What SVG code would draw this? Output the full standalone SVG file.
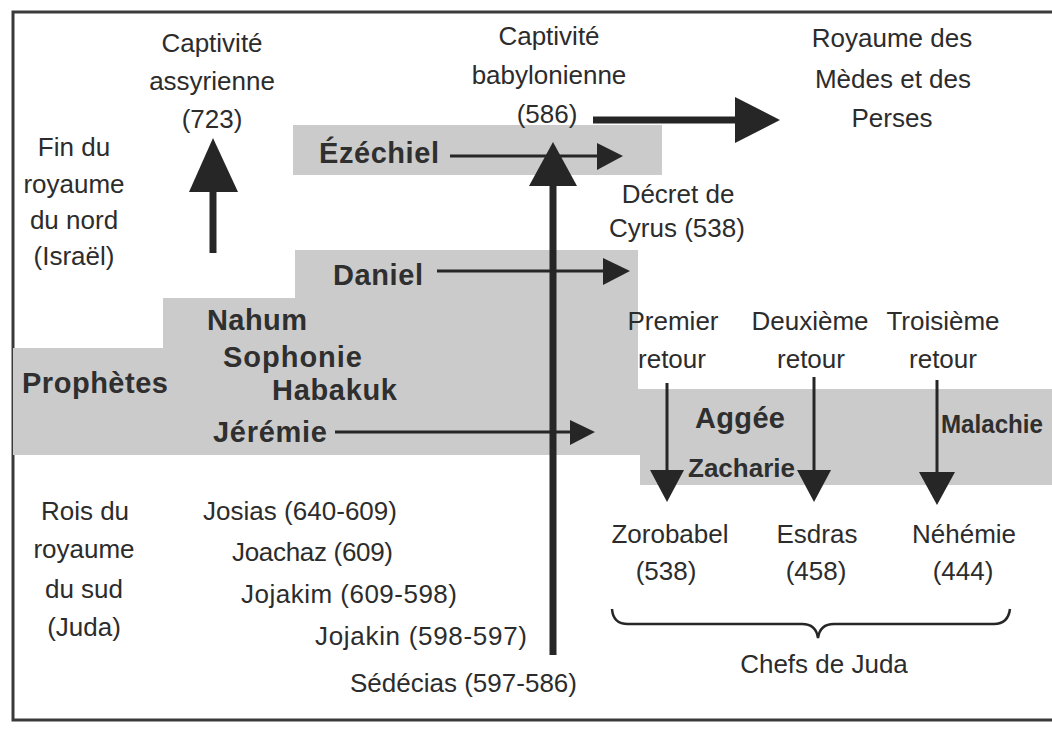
<svg xmlns="http://www.w3.org/2000/svg" width="1052" height="734" viewBox="0 0 1052 734">
<style>
.t{font-family:"Liberation Sans",Arial,sans-serif;font-size:26px;fill:#2c2c2c;text-anchor:middle}
.k{font-family:"Liberation Sans",Arial,sans-serif;font-size:26px;fill:#2c2c2c}
.b{font-family:"Liberation Sans",Arial,sans-serif;font-size:29px;font-weight:bold;fill:#2f2f2f}
.band{fill:#cbcbcb}
.ln{stroke:#262626;fill:none}
.hd{fill:#262626}
</style>
<rect width="1052" height="734" fill="#ffffff"/>
<path d="M1052,12 H13 V720 H1052" fill="none" stroke="#3a3a3a" stroke-width="3"/>
<g id="bands">
<rect class="band" x="293" y="125" width="369" height="50"/>
<polygon class="band" points="295,250 638,250 638,389 1052,389 1052,485 640,485 640,455 13,455 13,348 163,348 163,298 295,298"/>
</g>
<g id="connectors">
<line class="ln" x1="213" y1="253" x2="213" y2="190" stroke-width="7"/>
<polygon class="hd" points="213,138 238,192 189,192"/>
<line class="ln" x1="553" y1="655" x2="553" y2="184" stroke-width="7"/>
<polygon class="hd" points="553,142 577,186 529,186"/>
<line class="ln" x1="593" y1="120" x2="737" y2="120" stroke-width="7"/>
<polygon class="hd" points="780,120 735,97 735,143"/>
<line class="ln" x1="450" y1="156" x2="600" y2="156" stroke-width="3"/>
<polygon class="hd" points="623,156 597,143 597,170"/>
<line class="ln" x1="437" y1="271" x2="606" y2="271" stroke-width="3"/>
<polygon class="hd" points="630,271 603,258 603,285"/>
<line class="ln" x1="335" y1="432" x2="573" y2="432" stroke-width="3"/>
<polygon class="hd" points="595,432 570,420 570,445"/>
<line class="ln" x1="667" y1="383" x2="667" y2="472" stroke-width="3"/>
<polygon class="hd" points="667,502 650,470 684,470"/>
<line class="ln" x1="814" y1="377" x2="814" y2="472" stroke-width="3"/>
<polygon class="hd" points="814,502 797,470 831,470"/>
<line class="ln" x1="937" y1="380" x2="937" y2="474" stroke-width="3"/>
<polygon class="hd" points="937,505 919,472 955,472"/>
<path class="ln" stroke-width="2.5" d="M612,609 Q613,624 628,624 H802 Q816,624 818,638 Q820,624 834,624 H994 Q1008,624 1010,609"/>
</g>
<g id="captivite-assyrienne">
<text class="t" x="212" y="52">Captivité</text>
<text class="t" x="212" y="90">assyrienne</text>
<text class="t" x="212" y="128">(723)</text>
</g>
<g id="fin-royaume-nord">
<text class="t" x="74" y="156">Fin du</text>
<text class="t" x="74" y="193">royaume</text>
<text class="t" x="74" y="229">du nord</text>
<text class="t" x="74" y="265">(Israël)</text>
</g>
<g id="captivite-babylonienne">
<text class="t" x="549" y="45">Captivité</text>
<text class="t" x="549" y="84">babylonienne</text>
<text class="t" x="547" y="123">(586)</text>
</g>
<g id="royaume-medes-perses">
<text class="t" x="892" y="47">Royaume des</text>
<text class="t" x="893" y="88">Mèdes et des</text>
<text class="t" x="892" y="127">Perses</text>
</g>
<g id="decret-cyrus">
<text class="t" x="678" y="203">Décret de</text>
<text class="t" x="677" y="237">Cyrus (538)</text>
</g>
<g id="ezechiel"><text class="b" x="319" y="163" textLength="120">Ézéchiel</text></g>
<g id="daniel"><text class="b" x="333" y="285" textLength="90">Daniel</text></g>
<g id="nahum"><text class="b" x="207" y="330" textLength="100">Nahum</text></g>
<g id="sophonie"><text class="b" x="223" y="367" textLength="139">Sophonie</text></g>
<g id="habakuk"><text class="b" x="272" y="400" textLength="125">Habakuk</text></g>
<g id="prophetes"><text class="b" x="22" y="393" textLength="146">Prophètes</text></g>
<g id="jeremie"><text class="b" x="213" y="442" textLength="114">Jérémie</text></g>
<g id="aggee"><text class="b" x="695" y="428" textLength="90">Aggée</text></g>
<g id="zacharie"><text class="b" x="688" y="477" style="font-size:26px" textLength="107">Zacharie</text></g>
<g id="malachie"><text class="b" x="941" y="433" style="font-size:26px" textLength="102" lengthAdjust="spacingAndGlyphs">Malachie</text></g>
<g id="premier-retour">
<text class="t" x="673" y="330">Premier</text>
<text class="t" x="672" y="368">retour</text>
</g>
<g id="deuxieme-retour">
<text class="t" x="810" y="330">Deuxième</text>
<text class="t" x="811" y="368">retour</text>
</g>
<g id="troisieme-retour">
<text class="t" x="943" y="330">Troisième</text>
<text class="t" x="943" y="368">retour</text>
</g>
<g id="zorobabel">
<text class="t" x="670" y="543">Zorobabel</text>
<text class="t" x="666" y="580">(538)</text>
</g>
<g id="esdras">
<text class="t" x="817" y="543">Esdras</text>
<text class="t" x="816" y="580">(458)</text>
</g>
<g id="nehemie">
<text class="t" x="964" y="543">Néhémie</text>
<text class="t" x="963" y="580">(444)</text>
</g>
<g id="chefs-de-juda"><text class="t" x="824" y="673">Chefs de Juda</text></g>
<g id="rois-royaume-sud">
<text class="t" x="85" y="520">Rois du</text>
<text class="t" x="84" y="558">royaume</text>
<text class="t" x="84" y="598">du sud</text>
<text class="t" x="84" y="636">(Juda)</text>
</g>
<g id="rois">
<text class="k" x="203" y="520" textLength="194">Josias (640-609)</text>
<text class="k" x="232" y="561" textLength="161">Joachaz (609)</text>
<text class="k" x="241" y="603" textLength="216">Jojakim (609-598)</text>
<text class="k" x="315" y="645" textLength="212">Jojakin (598-597)</text>
<text class="k" x="350" y="692" textLength="227">Sédécias (597-586)</text>
</g>
</svg>
